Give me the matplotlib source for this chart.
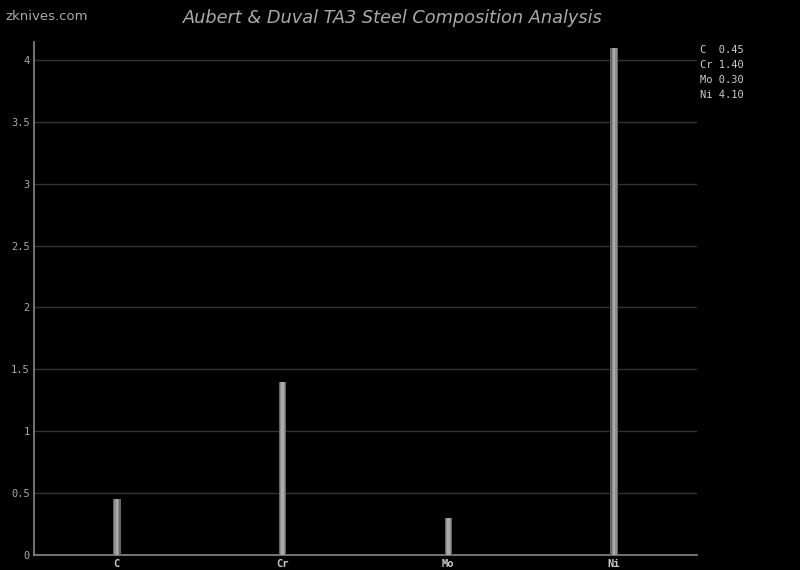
import matplotlib
matplotlib.use('Agg')
import matplotlib.pyplot as plt
import numpy as np

# DATA
elements = ['C', 'Cr', 'Mo', 'Ni']
values = [0.45, 1.40, 0.30, 4.10]
yticks = [0, 0.5, 1, 1.5, 2, 2.5, 3, 3.5, 4]
ytick_labels = ['0', '0.5', '1', '1.5', '2', '2.5', '3', '3.5', '4']

fig = plt.figure(figsize=(8, 5.7), dpi=100, facecolor='black')
ax = fig.add_axes([34 / 800, 15 / 570, 663 / 800, 513 / 570], facecolor='black')

x = np.arange(len(elements))

# bars with a bit of shading: dark outer, light middle
ax.bar(x, values, 0.045, color='#666666', zorder=3)
ax.bar(x, values, 0.03, color='#8e8e8e', zorder=4)
ax.bar(x, values, 0.014, color='#aaaaaa', zorder=5)

ax.set_xlim(-0.5, 3.5)
ax.set_ylim(0, 4.145)
ax.set_xticks(x)
ax.set_xticklabels(elements, family='DejaVu Sans Mono', fontsize=7.5, color='#cccccc', fontweight='bold')
ax.set_yticks(yticks)
ax.set_yticklabels(ytick_labels, family='DejaVu Sans Mono', fontsize=7.5, color='#aaaaaa')
ax.tick_params(axis='both', length=0, pad=3)

ax.grid(axis='y', color='#333333', linewidth=1, zorder=0)
for s in ['top', 'right']:
    ax.spines[s].set_visible(False)
for s in ['left', 'bottom']:
    ax.spines[s].set_color('#888888')
    ax.spines[s].set_linewidth(1.2)

# legend text on the right
for i, (el, v) in enumerate(zip(elements, values)):
    fig.text(700 / 800, 1 - (50 + 15 * i) / 570, '%-2s %.2f' % (el, v),
             family='DejaVu Sans Mono', fontsize=7.5, color='#cccccc', va='center', ha='left')

fig.text(393 / 800, 1 - 18 / 570, 'Aubert & Duval TA3 Steel Composition Analysis',
         fontsize=12.8, style='italic', color='#aaaaaa', ha='center', va='center')
fig.text(5 / 800, 1 - 16 / 570, 'zknives.com', fontsize=9.5, color='#aaaaaa', ha='left', va='center')

fig.savefig('out.png', dpi=100, facecolor='black')
